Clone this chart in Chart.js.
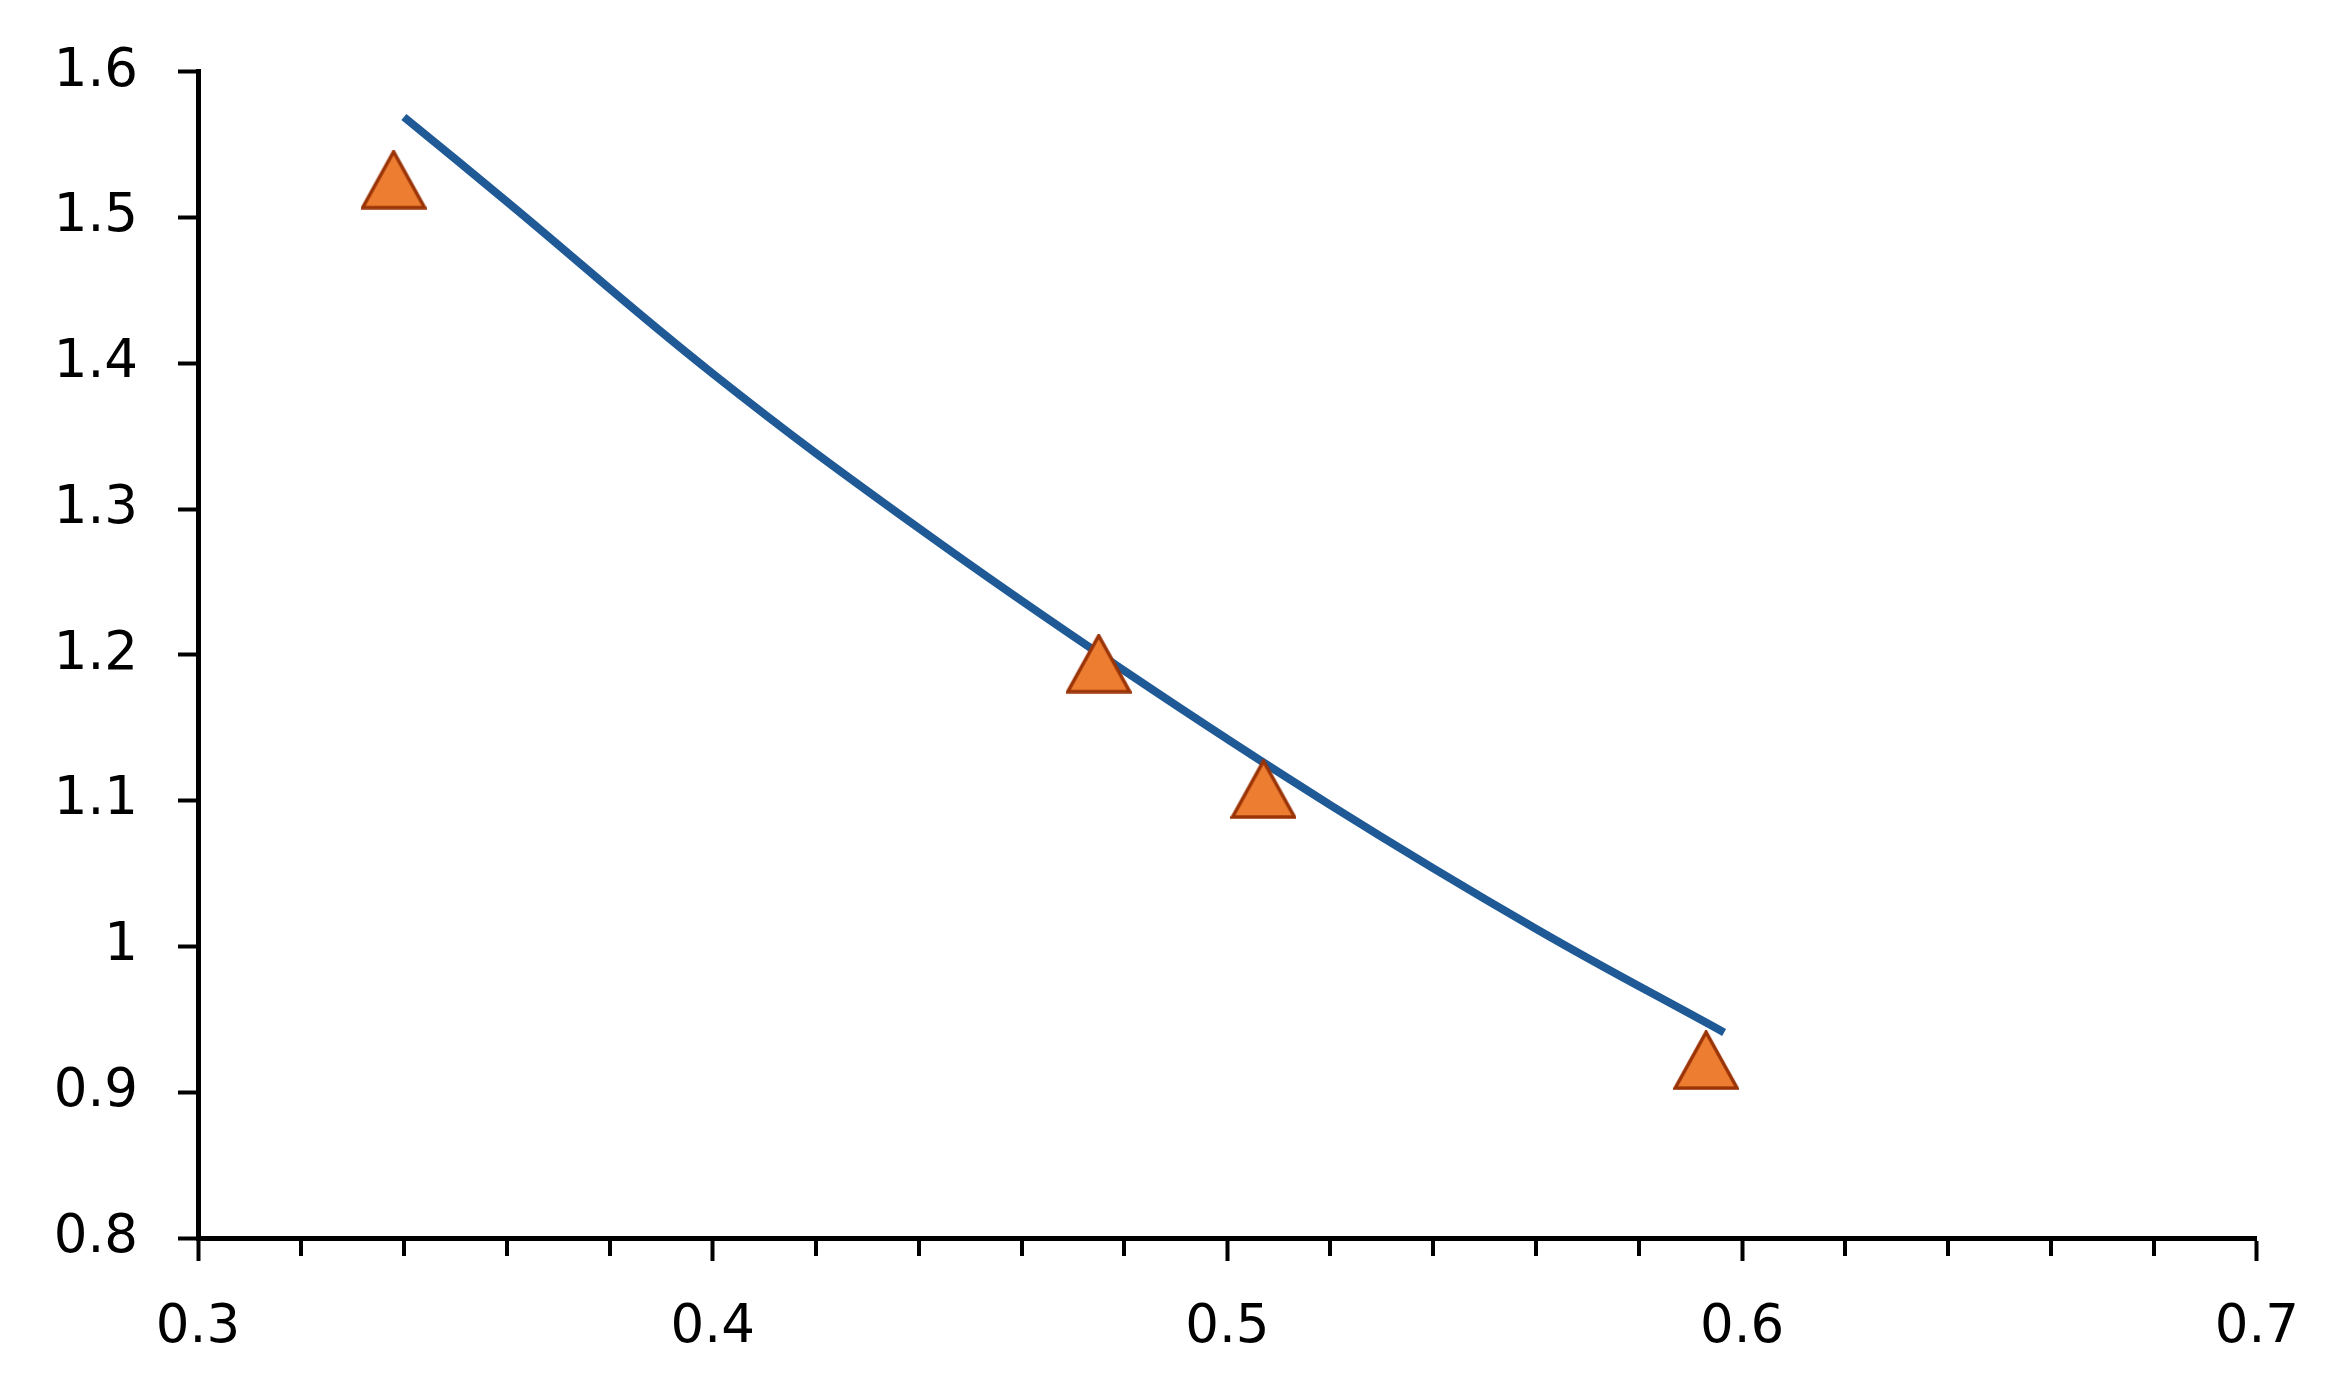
<!DOCTYPE html>
<html>
<head>
<meta charset="utf-8">
<script src="https://cdn.jsdelivr.net/npm/chart.js@4.4.0/dist/chart.umd.min.js"></script>
<style>
    body { margin: 0; background: #ffffff; }
    #wrap { width: 2334px; height: 1395px; }
</style>
</head>
<body>
<div id="wrap"><canvas id="scatterChart"></canvas></div>
<script>
// measured points (orange triangles)
const POINT_X = [0.338, 0.475, 0.507, 0.593]
const POINT_Y = [1.526, 1.194, 1.108, 0.922]

// fitted curve
const CURVE_X = [0.340, 0.36, 0.40, 0.44, 0.48, 0.52, 0.56, 0.5965]
const CURVE_Y = [1.569, 1.511, 1.393, 1.287, 1.189, 1.097, 1.012, 0.941]

// axis ticks
const X_TICKS = [0.3, 0.4, 0.5, 0.6, 0.7]
const Y_TICKS = [0.8, 0.9, 1.0, 1.1, 1.2, 1.3, 1.4, 1.5, 1.6]

const FONT = { family: "'DejaVu Sans', Verdana, sans-serif", size: 53 }

// excel style triangle, centred on its bounding box
function makeTriangle() {
    const c = document.createElement('canvas')
    c.width = 66
    c.height = 60
    const ctx = c.getContext('2d')
    ctx.beginPath()
    ctx.moveTo(33, 2)
    ctx.lineTo(64, 58)
    ctx.lineTo(2, 58)
    ctx.closePath()
    ctx.fillStyle = '#ED7D31'
    ctx.fill()
    ctx.lineWidth = 3.5
    ctx.strokeStyle = '#9A3306'
    ctx.lineJoin = 'miter'
    ctx.stroke()
    return c
}

// short minor ticks between the labelled ones on the x axis
const minorTicks = {
    id: 'minorTicks',
    afterDraw(chart) {
        const x = chart.scales.x
        const ctx = chart.ctx
        ctx.save()
        ctx.strokeStyle = '#000000'
        ctx.lineWidth = 4
        for (let i = 0; i < X_TICKS.length - 1; i++) {
            for (let k = 1; k < 5; k++) {
                const v = X_TICKS[i] + k * 0.02
                const px = Math.round(x.getPixelForValue(v))
                ctx.beginPath()
                ctx.moveTo(px, x.top)
                ctx.lineTo(px, x.top + 18)
                ctx.stroke()
            }
        }
        ctx.restore()
    }
}

const tri = makeTriangle()

const chart = new Chart(document.getElementById('scatterChart'), {
    type: 'scatter',
    data: {
        datasets: [
            {
                label: 'fit',
                type: 'line',
                data: CURVE_X.map((x, i) => ({ x: x, y: CURVE_Y[i] })),
                borderColor: '#1F5A96',
                borderWidth: 8,
                borderCapStyle: 'butt',
                tension: 0.4,
                pointRadius: 0,
                fill: false,
                order: 2
            },
            {
                label: 'data',
                data: POINT_X.map((x, i) => ({ x: x, y: POINT_Y[i] })),
                pointStyle: tri,
                pointRadius: 33,
                order: 1
            }
        ]
    },
    options: {
        responsive: true,
        maintainAspectRatio: false,
        animation: false,
        layout: { padding: { top: 70, right: 76, bottom: 0, left: 0 } },
        plugins: {
            legend: { display: false },
            tooltip: { enabled: false }
        },
        scales: {
            x: {
                type: 'linear',
                min: X_TICKS[0],
                max: X_TICKS[X_TICKS.length - 1],
                afterBuildTicks: (scale) => { scale.ticks = X_TICKS.map(v => ({ value: v })) },
                afterFit: (scale) => { scale.height = 157 },
                border: { display: true, color: '#000000', width: 5 },
                grid: { drawOnChartArea: false, drawTicks: true, tickLength: 23, tickWidth: 4, tickColor: '#000000' },
                ticks: {
                    color: '#000000',
                    font: FONT,
                    padding: 35,
                    maxRotation: 0,
                    callback: (v) => String(+v.toFixed(1))
                }
            },
            y: {
                type: 'linear',
                min: Y_TICKS[0],
                max: Y_TICKS[Y_TICKS.length - 1],
                afterBuildTicks: (scale) => { scale.ticks = Y_TICKS.map(v => ({ value: v })) },
                afterFit: (scale) => { scale.width = 198 },
                border: { display: true, color: '#000000', width: 5 },
                grid: { drawOnChartArea: false, drawTicks: true, tickLength: 20, tickWidth: 4, tickColor: '#000000' },
                ticks: {
                    color: '#000000',
                    font: FONT,
                    padding: 40,
                    callback: (v) => String(+v.toFixed(1))
                }
            }
        }
    },
    plugins: [minorTicks]
});
</script>
</body>
</html>
